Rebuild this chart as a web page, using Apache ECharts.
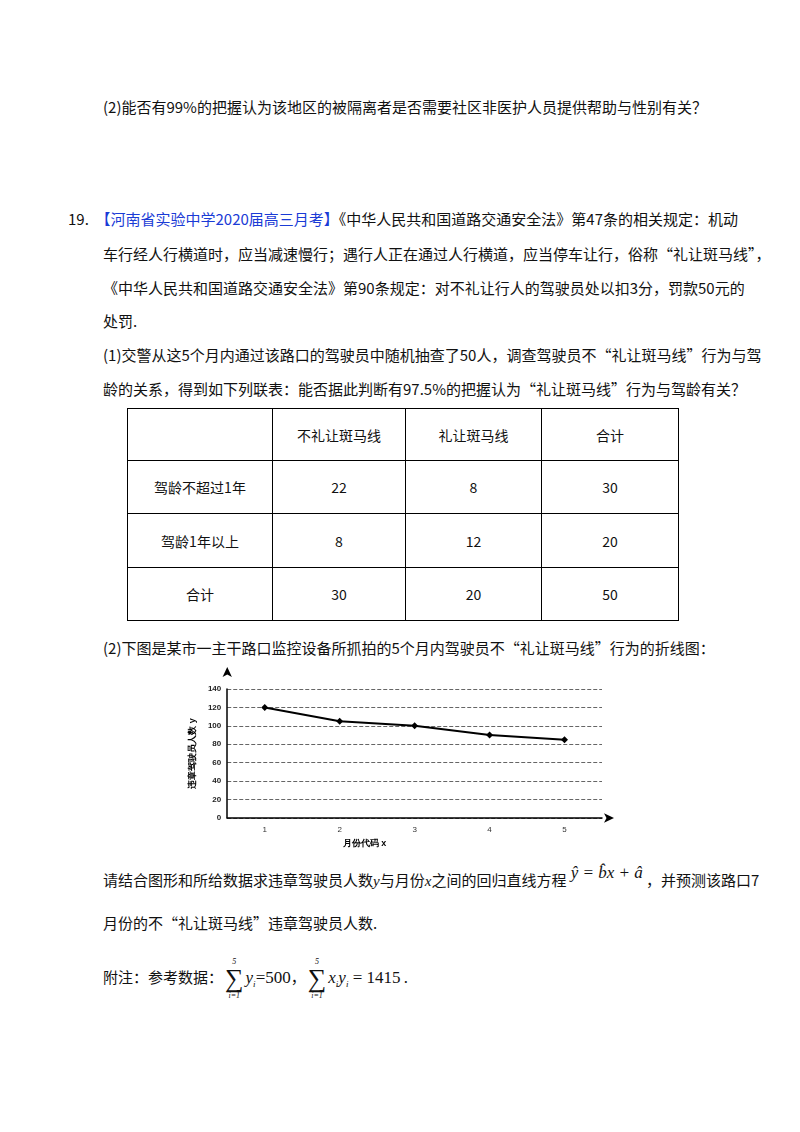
<!DOCTYPE html>
<html><head><meta charset="utf-8">
<script src="https://cdn.jsdelivr.net/npm/echarts@6/dist/echarts.min.js"></script>
<style>
body{margin:0;width:800px;height:1132px;background:#fff;position:relative;font-family:"Noto Sans CJK SC","Noto Sans",sans-serif;color:#111;}
.t{position:absolute;font-size:15px;white-space:nowrap;line-height:20px;}
.m{font-family:"Liberation Serif",serif;font-style:italic;}
.s{display:inline-block;vertical-align:middle;text-align:center;font-family:"Liberation Serif",serif;line-height:1;margin:0 2px;}
.s i{display:block;font-size:8px;font-style:italic;}
.s b{display:block;font-size:26px;font-weight:normal;}
table{position:absolute;left:127px;top:408px;border-collapse:collapse;font-size:14px;}
td{border:1px solid #000;text-align:center;padding:0;}
#c{position:absolute;left:180px;top:660px;width:440px;height:200px;}
</style></head><body>
<div class="t" style="left:103px;top:97px">(2)能否有99%的把握认为该地区的被隔离者是否需要社区非医护人员提供帮助与性别有关？</div>
<div class="t" style="left:68px;top:209px">19.&nbsp; <span style="color:#1a3bd6">【河南省实验中学2020届高三月考】</span>《中华人民共和国道路交通安全法》第47条的相关规定：机动</div>
<div class="t" style="left:103px;top:244px">车行经人行横道时，应当减速慢行；遇行人正在通过人行横道，应当停车让行，俗称“礼让斑马线”，</div>
<div class="t" style="left:103px;top:278px">《中华人民共和国道路交通安全法》第90条规定：对不礼让行人的驾驶员处以扣3分，罚款50元的</div>
<div class="t" style="left:103px;top:311px">处罚.</div>
<div class="t" style="left:103px;top:345px">(1)交警从这5个月内通过该路口的驾驶员中随机抽查了50人，调查驾驶员不“礼让斑马线”行为与驾</div>
<div class="t" style="left:103px;top:379px">龄的关系，得到如下列联表：能否据此判断有97.5%的把握认为“礼让斑马线”行为与驾龄有关？</div>
<table>
<tr style="height:52px"><td style="width:144px"></td><td style="width:132px">不礼让斑马线</td><td style="width:135px">礼让斑马线</td><td style="width:136px">合计</td></tr>
<tr style="height:53px"><td>驾龄不超过1年</td><td>22</td><td>8</td><td>30</td></tr>
<tr style="height:54px"><td>驾龄1年以上</td><td>8</td><td>12</td><td>20</td></tr>
<tr style="height:53px"><td>合计</td><td>30</td><td>20</td><td>50</td></tr>
</table>
<div class="t" style="left:103px;top:638px">(2)下图是某市一主干路口监控设备所抓拍的5个月内驾驶员不“礼让斑马线”行为的折线图：</div>
<div id="c"></div>
<div class="t" style="left:103px;top:870px">请结合图形和所给数据求违章驾驶员人数<span class="m">y</span>与月份<span class="m">x</span>之间的回归直线方程<span class="m" style="position:relative;top:-8px;font-size:17px"> ŷ = b̂x + â</span>&nbsp;，并预测该路口7</div>
<div class="t" style="left:103px;top:913px">月份的不“礼让斑马线”违章驾驶员人数.</div>
<div class="t" style="left:103px;top:958px">附注：参考数据：<span class="s"><i>5</i><b>∑</b><i>i=1</i></span><span class="m" style="font-size:17px">y<sub style="font-size:9px">i</sub></span><span style="font-family:'Liberation Serif';font-size:17px">=500</span>，<span class="s"><i>5</i><b>∑</b><i>i=1</i></span><span class="m" style="font-size:17px">x<sub style="font-size:9px">i</sub>y<sub style="font-size:9px">i</sub></span><span style="font-family:'Liberation Serif';font-size:17px"> = 1415</span>&nbsp;.</div>
<script>
const months=['1','2','3','4','5'];
const counts=[120,105,100,90,85];
const yTicks=[0,20,40,60,80,100,120,140];
const ch=echarts.init(document.getElementById('c'));
ch.setOption({
 animation:false,
 grid:{left:45,right:18,top:29,bottom:42},
 xAxis:{type:'category',data:months,boundaryGap:true,
  axisLine:{symbol:['none','arrow'],symbolSize:[7,10],symbolOffset:[0,12],lineStyle:{color:'#000',width:1.5}},
  axisTick:{show:false},axisLabel:{color:'#333',fontSize:8,margin:8},
  name:'月份代码 x',nameLocation:'middle',nameGap:18,nameTextStyle:{fontSize:9,fontWeight:'bold',color:'#000',padding:[0,100,0,0]}},
 yAxis:{type:'value',min:0,max:140,interval:20,
  axisLine:{show:true,symbol:['none','arrow'],symbolSize:[7,10],symbolOffset:[0,22],lineStyle:{color:'#000',width:1.5}},
  axisTick:{show:false},axisLabel:{color:'#222',fontSize:8,fontWeight:'bold',margin:6,formatter:v=>yTicks.includes(v)?v:''},
  splitLine:{lineStyle:{color:'#666',type:'dashed',width:1}},
  name:'违章驾驶员人数 y',nameLocation:'middle',nameGap:26,nameRotate:90,nameTextStyle:{fontSize:9,fontWeight:'bold',color:'#000'}},
 series:[{type:'line',data:counts,symbol:'diamond',symbolSize:7,itemStyle:{color:'#000'},lineStyle:{color:'#000',width:2}}]
});
</script>
</body></html>
